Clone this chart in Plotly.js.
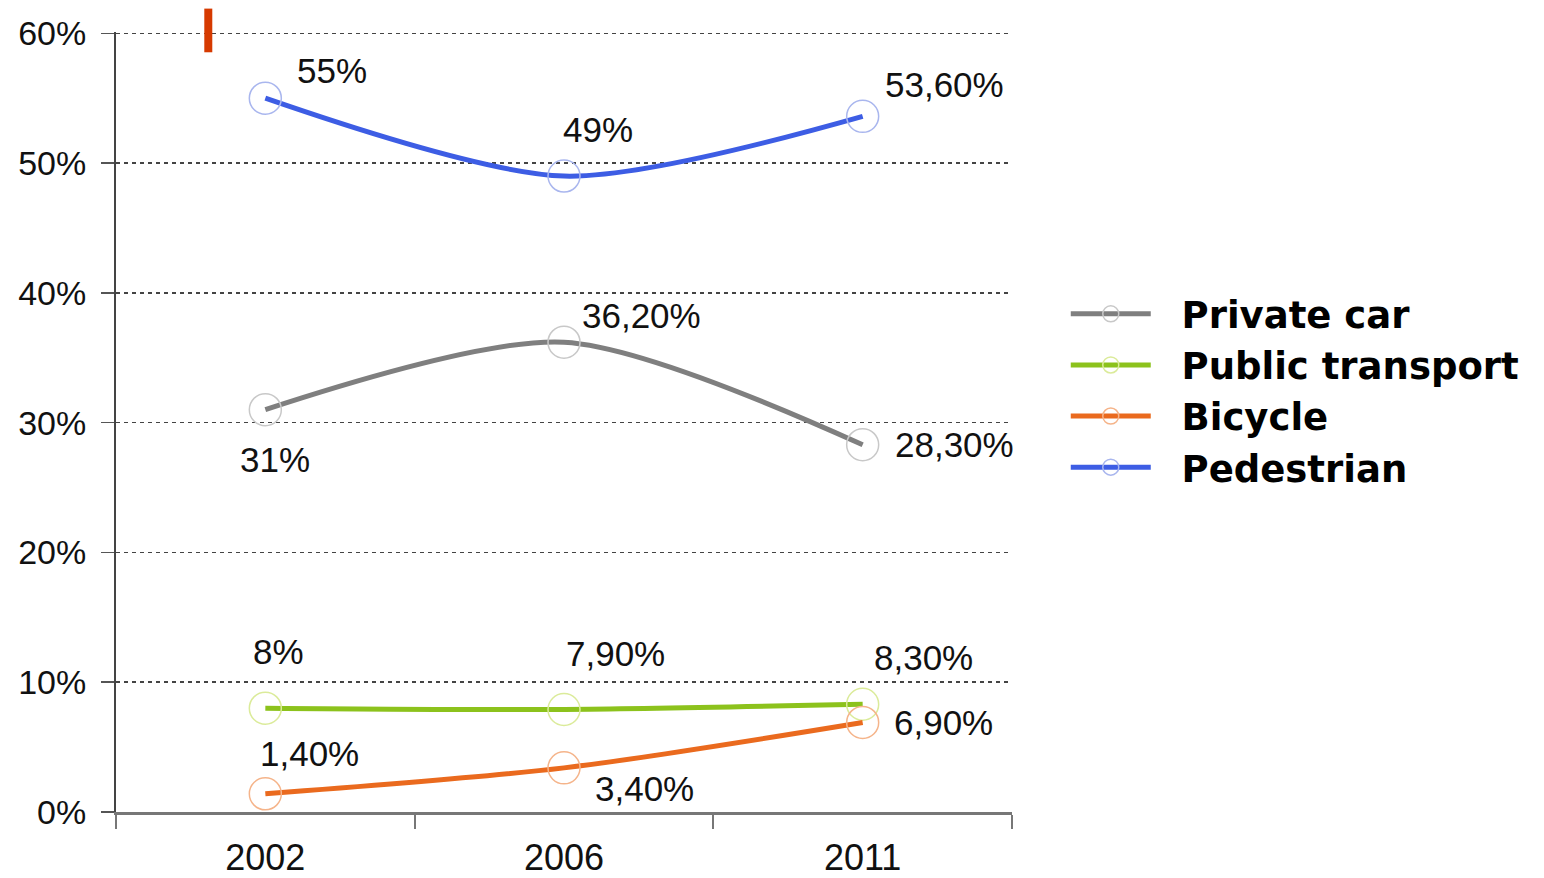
<!DOCTYPE html>
<html>
<head>
<meta charset="utf-8">
<script src="https://cdn.plot.ly/plotly-3.0.1.min.js"></script>
<style>html,body{margin:0;padding:0;background:#fff;}#chart{width:1544px;height:878px;}</style>
</head>
<body>
<div id="chart"></div>
<script>
const years = ['2002', '2006', '2011'];
const privateCar = [31, 36.2, 28.3];
const publicTransport = [8, 7.9, 8.3];
const bicycle = [1.4, 3.4, 6.9];
const pedestrian = [55, 49, 53.6];
const yTickVals = [0, 10, 20, 30, 40, 50, 60];
const yTickText = ['0%', '10%', '20%', '30%', '40%', '50%', '60%'];

const seriesDefs = [
  {name: 'Private car', values: privateCar, color: '#7f7f7f', marker: '#c8c8c8',
   offsets: [[10, -50], [77, 27], [92, 0]]},
  {name: 'Public transport', values: publicTransport, color: '#8cc21c', marker: '#dbeb9a',
   offsets: [[13, 57], [51, 56], [61, 47]]},
  {name: 'Bicycle', values: bicycle, color: '#ea6a1e', marker: '#f5b48a',
   offsets: [[44, 40], [80, -21], [81, 0]]},
  {name: 'Pedestrian', values: pedestrian, color: '#3d5de4', marker: '#a9b6ee',
   offsets: [[67, 28], [34, 47], [82, 32]]}
];

function fmt(v) {
  return Number.isInteger(v) ? v + '%' : v.toFixed(2).replace('.', ',') + '%';
}

const FONT = 'Liberation Sans, Arial, sans-serif';
const NBSP = '\u00a0\u00a0';
const traces = seriesDefs.map(s => ({
  type: 'scatter', mode: 'lines+markers', name: NBSP + s.name,
  x: years, y: s.values,
  line: {color: s.color, width: 5, shape: 'spline', smoothing: 0.8},
  marker: {symbol: 'circle-open', size: 32, color: s.marker, line: {width: 1.5, color: s.marker}},
  cliponaxis: false
}));

const annotations = [];
seriesDefs.forEach(s => {
  s.values.forEach((v, i) => {
    annotations.push({
      x: i, y: v, xref: 'x', yref: 'y', text: fmt(v), showarrow: false,
      xshift: s.offsets[i][0], yshift: s.offsets[i][1],
      font: {family: FONT, size: 35, color: '#111'}
    });
  });
});

const layout = {
  width: 1544, height: 878,
  margin: {l: 116, r: 532, t: 32, b: 66},
  paper_bgcolor: '#fff', plot_bgcolor: '#fff',
  font: {family: FONT, color: '#111'},
  showlegend: true,
  legend: {
    x: 1.06, y: 0.54, xanchor: 'left', yanchor: 'middle',
    font: {family: 'DejaVu Sans, Liberation Sans, sans-serif', size: 37, color: '#000', weight: 'bold'},
    itemwidth: 80, tracegroupgap: 0, bgcolor: 'rgba(0,0,0,0)'
  },
  xaxis: {
    type: 'category', range: [-0.5, 2.5],
    showline: true, linecolor: '#777', linewidth: 3,
    ticks: 'outside', tickson: 'boundaries', ticklen: 14, tickwidth: 2, tickcolor: '#777',
    showgrid: false, zeroline: false,
    tickfont: {family: FONT, size: 36, color: '#111'},
    ticklabelstandoff: 12, fixedrange: true
  },
  yaxis: {
    range: [0, 60.1], tickvals: yTickVals, ticktext: yTickText,
    showline: true, linecolor: '#444', linewidth: 2,
    ticks: 'outside', ticklen: 13, tickwidth: 1.5, tickcolor: '#555',
    showgrid: true, gridcolor: '#444', gridwidth: 1.5, griddash: '4px,4px',
    zeroline: false,
    tickfont: {family: FONT, size: 34, color: '#111'},
    ticklabelstandoff: 8, fixedrange: true
  },
  annotations: annotations,
  shapes: [{
    type: 'line', xref: 'paper', yref: 'paper',
    x0: 0.103, x1: 0.103, y0: 0.974, y1: 1.03,
    line: {color: '#d63a00', width: 8}
  }]
};

Plotly.newPlot('chart', traces, layout, {displayModeBar: false, staticPlot: true});
</script>
</body>
</html>
